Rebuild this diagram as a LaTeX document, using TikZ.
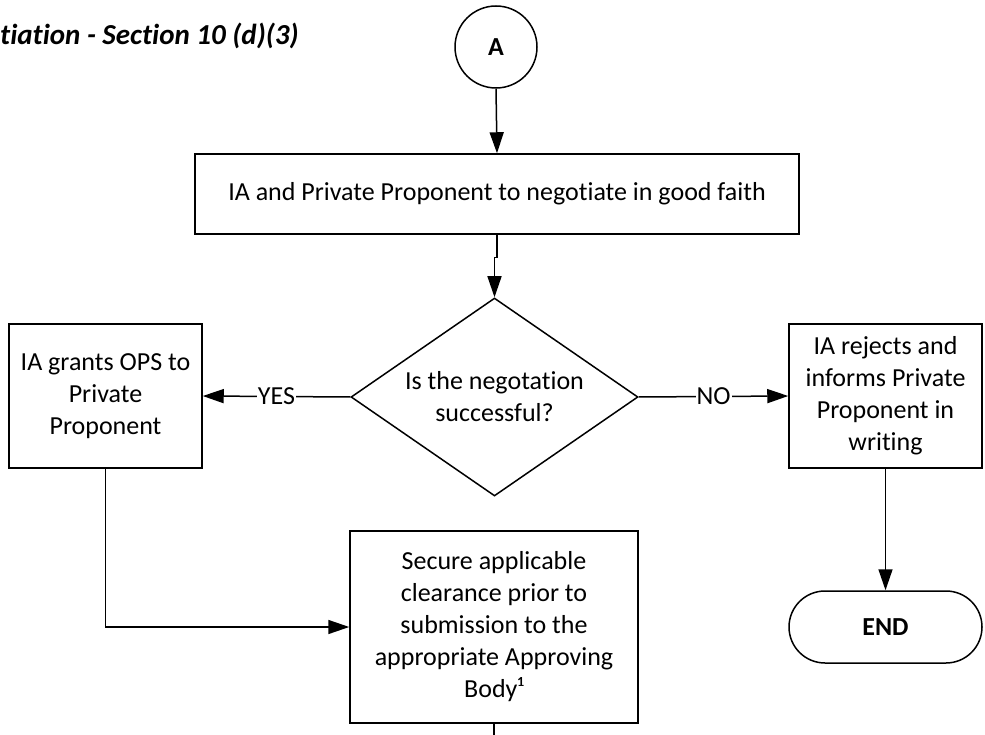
\documentclass[tikz,border=0pt]{standalone}
\usepackage{fontspec}
\setmainfont{Carlito}[Ligatures={CommonOff}]
\usetikzlibrary{arrows.meta,shapes.geometric}
\begin{document}
\begin{tikzpicture}[x=1pt,y=-1pt,
  every node/.style={font=\fontsize{26}{32}\selectfont, text=black},
  procbox/.style={draw, line width=1.5pt, rectangle, align=center, inner sep=0pt},
  decbox/.style={draw, line width=1.5pt, diamond, aspect=1.45, align=center, inner sep=0pt, minimum width=287pt, minimum height=198pt},
  termbox/.style={draw, line width=1.5pt, rectangle, rounded corners=36pt, align=center, inner sep=0pt, font=\fontsize{26}{32}\selectfont\bfseries},
  arr/.style={-{Triangle[length=21pt,width=14pt]}, line width=1.5pt},
  conn/.style={line width=1.5pt},
  lbl/.style={fill=white, inner sep=1pt}]
\useasboundingbox (0,0) rectangle (985,735);

\node[anchor=west, inner sep=0pt, font=\fontsize{29}{35}\selectfont\bfseries\itshape] (title) at (0,36) {tiation - Section 10 (d)(3)};

\node[draw, circle, line width=1.5pt, minimum size=82pt, inner sep=0pt, font=\fontsize{26}{32}\selectfont\bfseries] (A) at (496,47) {A};

\node[procbox, minimum width=604pt, minimum height=80pt] (neg) at (497,194) {IA and Private Proponent to negotiate in good faith};

\node[decbox] (dec) at (494.5,397) {Is the negotation\\successful?};

\node[procbox, minimum width=193pt, minimum height=144pt] (grant) at (105.5,396) {IA grants OPS to\\Private\\Proponent};

\node[procbox, minimum width=193pt, minimum height=144pt] (reject) at (885.5,396) {IA rejects and\\informs Private\\Proponent in\\writing};

\node[termbox, minimum width=193pt, minimum height=72pt] (end) at (885.5,627) {END};

\node[procbox, minimum width=288pt, minimum height=192pt] (secure) at (494,627) {Secure applicable\\clearance prior to\\submission to the\\appropriate Approving\\Body¹};

\coordinate (out) at (494,735);

\draw[arr] (A.south) -- (neg.north);
\draw[arr] (neg.south) -- ++(0,23) -| (dec.north);
\draw[arr] (dec.west) -- node[lbl] {YES} (grant.east);
\draw[arr] (dec.east) -- node[lbl] {NO} (reject.west);
\draw[arr] (reject.south) -- (end.north);
\draw[arr] (grant.south) |- (secure.west);
\draw[conn] (secure.south) -- (out);
\end{tikzpicture}
\end{document}
